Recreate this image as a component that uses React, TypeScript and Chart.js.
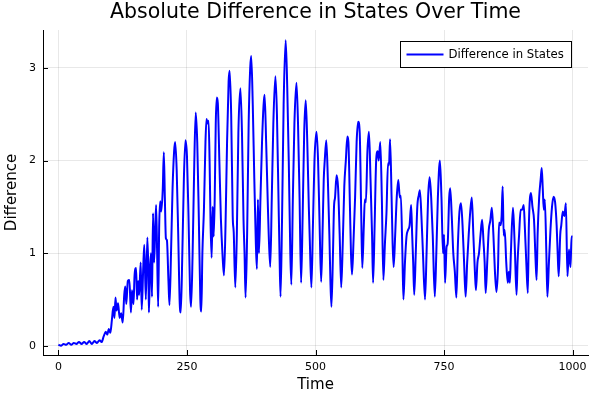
import { useEffect, useRef } from "react";
import { Chart, registerables } from "chart.js";

Chart.register(...registerables);

const chartTitle = "Absolute Difference in States Over Time";
const xTitle = "Time";
const yTitle = "Difference";
const seriesLabel = "Difference in States";
const xTickValues = [0, 250, 500, 750, 1000];
const yTickValues = [0, 1, 2, 3];

const times = [
  0, 5, 10, 15, 20, 25, 30, 35, 40, 45, 50, 55, 60, 65, 70, 75, 80, 84, 88, 92,
  95, 98, 101, 104, 107, 109, 111, 113, 116, 119, 122, 125, 128, 130, 132, 135, 138, 141, 143, 146,
  148, 151, 153, 155, 157, 160, 162, 165, 167, 170, 173, 175, 176, 178, 180, 182, 184, 186, 188, 190,
  192, 194, 196, 198, 200, 203, 205, 207, 209, 211, 214, 216, 219, 222, 225, 227, 230, 233, 236, 238,
  241, 244, 247, 250, 253, 256, 258, 261, 264, 267, 270, 273, 276, 278, 280, 283, 286, 288, 290, 292,
  294, 296, 298, 300, 302, 304, 306, 308, 310, 313, 316, 319, 322, 325, 328, 331, 333, 336, 339, 341,
  344, 347, 350, 354, 357, 360, 362, 364, 367, 370, 373, 375, 378, 381, 384, 386, 388, 390, 393, 396,
  399, 401, 404, 407, 409, 412, 415, 418, 422, 425, 428, 430, 432, 435, 438, 442, 445, 448, 451, 453,
  456, 459, 463, 466, 469, 472, 475, 478, 481, 484, 487, 489, 492, 495, 498, 502, 505, 508, 511, 514,
  516, 518, 521, 524, 527, 529, 531, 534, 536, 538, 541, 544, 547, 550, 553, 556, 559, 562, 564, 567,
  569, 571, 574, 577, 580, 583, 586, 589, 591, 594, 596, 598, 601, 604, 607, 610, 612, 615, 618, 621,
  623, 626, 629, 632, 635, 638, 641, 643, 645, 648, 650, 652, 655, 658, 661, 664, 666, 669, 671, 674,
  677, 680, 683, 686, 688, 690, 692, 695, 698, 701, 703, 706, 709, 713, 716, 719, 722, 725, 728, 732,
  735, 738, 742, 745, 748, 750, 752, 755, 757, 760, 762, 765, 768, 771, 774, 777, 780, 783, 786, 789,
  792, 795, 798, 801, 804, 807, 810, 812, 815, 818, 821, 824, 827, 829, 831, 834, 837, 840, 843, 846,
  849, 852, 855, 857, 860, 862, 864, 866, 868, 871, 874, 876, 878, 880, 884, 886, 888, 891, 893, 896,
  899, 902, 905, 907, 910, 913, 915, 919, 922, 925, 928, 930, 932, 935, 938, 940, 942, 944, 946, 949,
  951, 954, 957, 960, 963, 966, 969, 971, 973, 976, 978, 981, 984, 987, 990, 993, 996, 998, 1000,
];

const differences = [
  0.01, 0.0, 0.02, 0.01, 0.03, 0.01, 0.03, 0.02, 0.04, 0.02, 0.04, 0.02, 0.05, 0.02, 0.05, 0.03, 0.06, 0.04, 0.10, 0.15,
  0.12, 0.18, 0.14, 0.28, 0.42, 0.30, 0.52, 0.38, 0.46, 0.30, 0.35, 0.25, 0.55, 0.64, 0.45, 0.70, 0.71, 0.36, 0.60, 0.45,
  0.75, 0.84, 0.50, 0.70, 0.55, 0.90, 0.39, 0.85, 1.09, 0.50, 1.17, 0.80, 0.36, 0.80, 1.00, 0.53, 1.43, 0.90, 1.20, 1.52,
  1.00, 0.42, 1.30, 1.56, 1.45, 1.70, 2.09, 1.60, 1.16, 1.14, 0.70, 0.44, 1.00, 1.70, 2.10, 2.20, 1.90, 1.20, 0.45, 0.36,
  1.00, 1.80, 2.22, 2.05, 1.40, 0.60, 0.42, 1.00, 1.90, 2.52, 2.20, 1.40, 0.50, 0.37, 1.00, 1.47, 2.20, 2.45, 2.40, 2.43,
  2.00, 1.30, 0.95, 1.50, 1.18, 1.60, 2.40, 2.68, 2.62, 2.00, 1.37, 1.00, 0.76, 1.30, 2.20, 2.85, 2.97, 2.50, 1.40, 1.22,
  0.63, 1.20, 2.30, 2.78, 2.30, 1.36, 1.00, 0.52, 1.20, 2.40, 3.00, 3.13, 2.60, 1.80, 1.10, 0.83, 1.58, 1.00, 1.60, 2.20,
  2.60, 2.71, 2.20, 1.58, 1.20, 0.85, 1.60, 2.40, 2.91, 2.50, 1.60, 1.00, 0.53, 1.40, 2.60, 3.30, 2.80, 2.00, 1.00, 0.66,
  1.60, 2.40, 2.84, 2.40, 1.60, 0.68, 1.40, 2.30, 2.65, 2.20, 1.50, 1.12, 0.63, 1.30, 2.00, 2.31, 2.00, 1.30, 0.69, 1.30,
  1.79, 2.00, 2.22, 1.80, 1.20, 0.70, 0.42, 1.00, 1.50, 1.60, 1.84, 1.70, 1.20, 0.63, 1.10, 1.72, 2.00, 2.26, 2.20, 1.50,
  1.00, 0.77, 1.14, 1.60, 2.20, 2.42, 2.30, 1.40, 0.84, 1.30, 1.58, 1.55, 2.10, 2.31, 1.80, 1.20, 0.68, 1.30, 2.00, 2.10,
  2.00, 2.20, 1.60, 0.71, 1.10, 1.43, 1.97, 1.95, 2.23, 1.60, 1.10, 0.85, 1.20, 1.60, 1.79, 1.60, 1.62, 1.00, 0.50, 0.90,
  1.18, 1.25, 1.30, 1.52, 1.20, 0.90, 0.55, 1.00, 1.50, 1.63, 1.68, 1.40, 1.00, 0.50, 1.00, 1.60, 1.82, 1.60, 1.20, 0.53,
  1.00, 1.60, 2.00, 1.60, 1.00, 1.20, 0.68, 1.07, 1.10, 1.60, 1.70, 1.40, 1.00, 0.80, 0.52, 1.10, 1.45, 1.54, 1.30, 0.90,
  0.53, 0.90, 1.20, 1.45, 1.60, 1.20, 0.80, 0.60, 0.90, 1.00, 1.20, 1.36, 1.10, 0.90, 0.57, 0.90, 1.25, 1.35, 1.49, 1.20,
  0.80, 0.58, 0.85, 1.33, 1.30, 1.40, 1.72, 1.19, 1.25, 0.90, 0.68, 0.80, 0.68, 1.00, 1.49, 1.30, 1.00, 0.55, 0.90, 1.20,
  1.47, 1.47, 1.52, 1.30, 0.90, 0.57, 1.30, 1.65, 1.50, 1.36, 0.93, 0.71, 1.20, 1.60, 1.80, 1.92, 1.70, 1.47, 1.58, 1.00,
  0.53, 0.90, 1.25, 1.50, 1.61, 1.55, 1.30, 1.00, 0.75, 1.20, 1.30, 1.45, 1.40, 1.54, 0.75, 1.04, 0.85, 1.18, 1.18,
];

const FONT = "'DejaVu Sans', 'Liberation Sans', sans-serif";

const decorations = {
  id: "decorations",
  afterDraw(chart: any) {
    const { ctx, chartArea: a, scales } = chart;
    ctx.save();
    ctx.strokeStyle = "#000";
    ctx.lineWidth = 1;
    ctx.beginPath();
    yTickValues.forEach((v) => {
      const y = Math.round(scales.y.getPixelForValue(v)) + 0.5;
      ctx.moveTo(a.left, y);
      ctx.lineTo(a.left + 5, y);
    });
    xTickValues.forEach((v) => {
      const x = Math.round(scales.x.getPixelForValue(v)) + 0.5;
      ctx.moveTo(x, a.bottom);
      ctx.lineTo(x, a.bottom - 5);
    });
    ctx.stroke();

    // legend box
    const ds = chart.data.datasets[0];
    const bw = 171;
    const bh = 26;
    const bx = Math.round(a.right - 17 - bw) + 0.5;
    const by = Math.round(a.top + 11) + 0.5;
    ctx.fillStyle = "#fff";
    ctx.fillRect(bx, by, bw, bh);
    ctx.strokeStyle = "#000";
    ctx.lineWidth = 1;
    ctx.strokeRect(bx, by, bw, bh);
    ctx.strokeStyle = ds.borderColor;
    ctx.lineWidth = 2;
    ctx.beginPath();
    ctx.moveTo(bx + 6, by + bh / 2);
    ctx.lineTo(bx + 43, by + bh / 2);
    ctx.stroke();
    ctx.fillStyle = "#000";
    ctx.font = `11.7px ${FONT}`;
    ctx.textBaseline = "middle";
    ctx.textAlign = "left";
    ctx.fillText(ds.label, bx + 48, by + bh / 2 + 0.5);
    ctx.restore();
  },
};

export default function App() {
  const canvasRef = useRef<HTMLCanvasElement | null>(null);

  useEffect(() => {
    document.body.style.margin = "0";
    const canvas = canvasRef.current;
    if (!canvas) return;
    const points = times.map((t, i) => ({ x: t, y: differences[i] }));
    const chart = new Chart(canvas, {
      type: "line",
      data: {
        datasets: [
          {
            label: seriesLabel,
            data: points,
            borderColor: "#0000ff",
            backgroundColor: "#0000ff",
            borderWidth: 2,
            pointRadius: 0,
            cubicInterpolationMode: "monotone",
            fill: false,
          },
        ],
      },
      options: {
        responsive: false,
        animation: false,
        layout: { padding: { top: 0, right: 12, bottom: 0, left: 0 } },
        plugins: {
          legend: { display: false },
          tooltip: { enabled: false },
          title: {
            display: true,
            text: chartTitle,
            fullSize: false,
            color: "#000",
            font: { family: FONT, size: 20.5, weight: "normal", lineHeight: 1.2 },
            padding: { top: 0, bottom: 5.4 },
          },
        },
        scales: {
          x: {
            type: "linear",
            min: -30,
            max: 1030,
            afterFit: (s: any) => {
              s.height = 45;
            },
            afterBuildTicks: (s: any) => {
              s.ticks = xTickValues.map((v) => ({ value: v }));
            },
            grid: { color: "rgba(0,0,0,0.09)", lineWidth: 1, drawTicks: false },
            border: { display: true, color: "#000", width: 1 },
            ticks: {
              color: "#000",
              padding: 6,
              maxRotation: 0,
              font: { family: FONT, size: 11 },
              callback: (v: any) => String(v),
            },
            title: {
              display: true,
              text: xTitle,
              color: "#000",
              font: { family: FONT, size: 15 },
              padding: { top: 6, bottom: 6 },
            },
          },
          y: {
            type: "linear",
            min: -0.1,
            max: 3.41,
            afterFit: (s: any) => {
              s.width = 43;
            },
            afterBuildTicks: (s: any) => {
              s.ticks = yTickValues.map((v) => ({ value: v }));
            },
            grid: { color: "rgba(0,0,0,0.09)", lineWidth: 1, drawTicks: false },
            border: { display: true, color: "#000", width: 1 },
            ticks: {
              color: "#000",
              padding: 7,
              font: { family: FONT, size: 11 },
              callback: (v: any) => String(v),
            },
            title: {
              display: true,
              text: yTitle,
              color: "#000",
              font: { family: FONT, size: 15 },
              padding: { top: 3, bottom: 3 },
            },
          },
        },
      },
      plugins: [decorations],
    });
    return () => chart.destroy();
  }, []);

  return (
    <div style={{ width: 600, height: 400 }}>
      <canvas ref={canvasRef} width={600} height={400} />
    </div>
  );
}
